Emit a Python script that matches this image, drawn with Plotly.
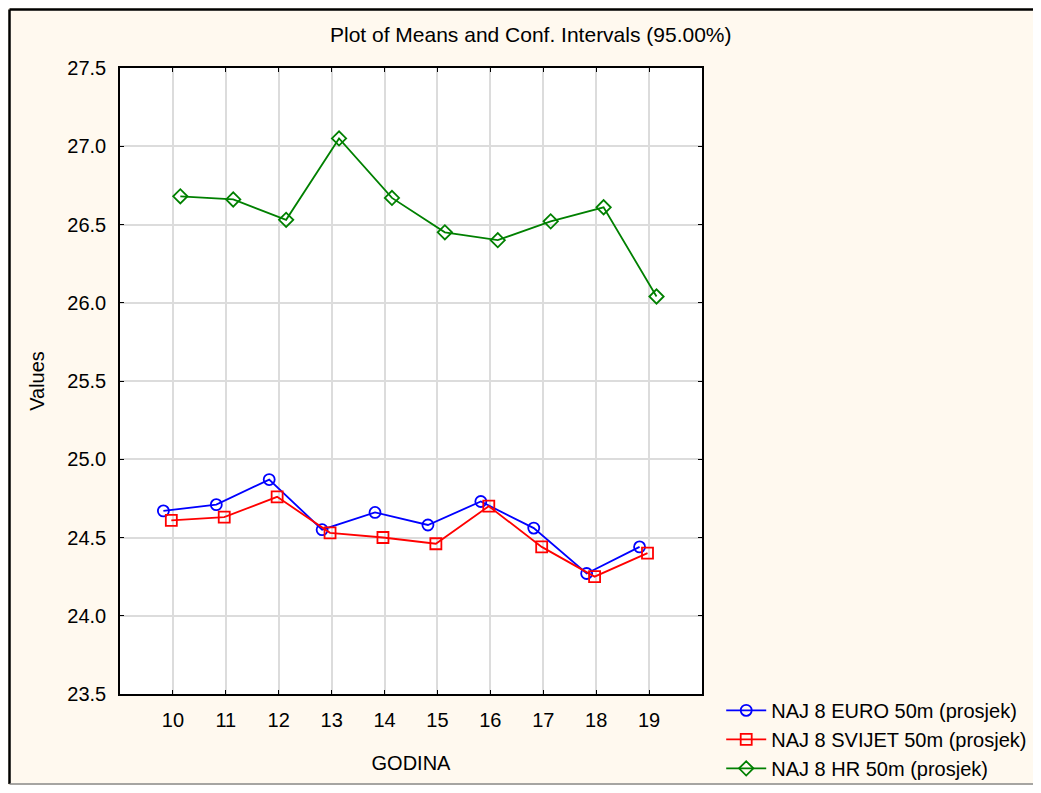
import plotly.graph_objects as go

# GODINA (year) categories
godina = [10, 11, 12, 13, 14, 15, 16, 17, 18, 19]

# means
euro = [24.67, 24.71, 24.87, 24.55, 24.66, 24.58, 24.73, 24.56, 24.27, 24.44]
svijet = [24.61, 24.63, 24.76, 24.53, 24.50, 24.46, 24.70, 24.44, 24.25, 24.40]
hr = [26.68, 26.66, 26.53, 27.05, 26.67, 26.45, 26.40, 26.52, 26.61, 26.04]

names = ["NAJ 8 EURO 50m (prosjek)", "NAJ 8 SVIJET 50m (prosjek)", "NAJ 8 HR 50m (prosjek)"]
colors = ["#0000ff", "#ff0000", "#008000"]
symbols = ["circle-open", "square-open", "diamond-open"]
offsets = [-0.18, -0.03, 0.14]  # statistica shifts each series a bit

fig = go.Figure()
for vals, name, col, sym, off in zip([euro, svijet, hr], names, colors, symbols, offsets):
    fig.add_trace(go.Scatter(
        x=[g + off for g in godina], y=vals, name=name,
        mode="lines+markers",
        line=dict(color=col, width=1.8),
        marker=dict(symbol=sym, size=11, color=col, line=dict(width=1.8, color=col)),
    ))

axis_common = dict(showline=True, linecolor="black", linewidth=1.5, mirror="ticks",
                   ticks="inside", ticklen=4, tickcolor="black",
                   showgrid=True, gridcolor="#dcdcdc", gridwidth=1.5, zeroline=False,
                   tickfont=dict(size=20, color="black"), automargin=False)

fig.update_xaxes(range=[9, 20], tickvals=godina, ticktext=[str(g) for g in godina],
                 ticklabelstandoff=7,
                 title=dict(text="GODINA", font=dict(size=20, color="black"), standoff=26),
                 **axis_common)
fig.update_yaxes(range=[23.5, 27.5], dtick=0.5, tickformat=".1f",
                 ticklabelstandoff=8,
                 title=dict(text="Values", font=dict(size=20, color="black"), standoff=17),
                 **axis_common)

# page body has an 8px margin, so keep the figure inside the window
fig.update_layout(
    width=1025, height=777,
    margin=dict(l=112, r=331, t=60, b=91, autoexpand=False),
    paper_bgcolor="#fff9ef", plot_bgcolor="white",
    font=dict(family="Liberation Sans, Arial, sans-serif", color="black"),
    title=dict(text="Plot of Means and Conf. Intervals (95.00%)", x=0.51, xanchor="center",
               y=0.966, yanchor="middle", font=dict(size=21, color="black")),
    legend=dict(x=1.033, xanchor="left", y=0.005, yanchor="top", bgcolor="rgba(0,0,0,0)",
                font=dict(size=20, color="black"), tracegroupgap=0, itemwidth=40),
    showlegend=True,
)

# outer frame (left, top dark; bottom gray)
top = (694 - 9.5) / 626
bot = (694 - 784) / 626
left = (9.5 - 120) / 582
fig.add_shape(type="line", xref="paper", yref="paper", x0=left, x1=left, y0=bot, y1=top,
              line=dict(color="black", width=2.5))
fig.add_shape(type="line", xref="paper", yref="paper", x0=left, x1=(1045 - 120) / 582, y0=top, y1=top,
              line=dict(color="black", width=2.5))
fig.add_shape(type="line", xref="paper", yref="paper", x0=left, x1=(1045 - 120) / 582, y0=bot, y1=bot,
              line=dict(color="#888888", width=1.5))

fig.write_html("out.html", config={"displayModeBar": False})
